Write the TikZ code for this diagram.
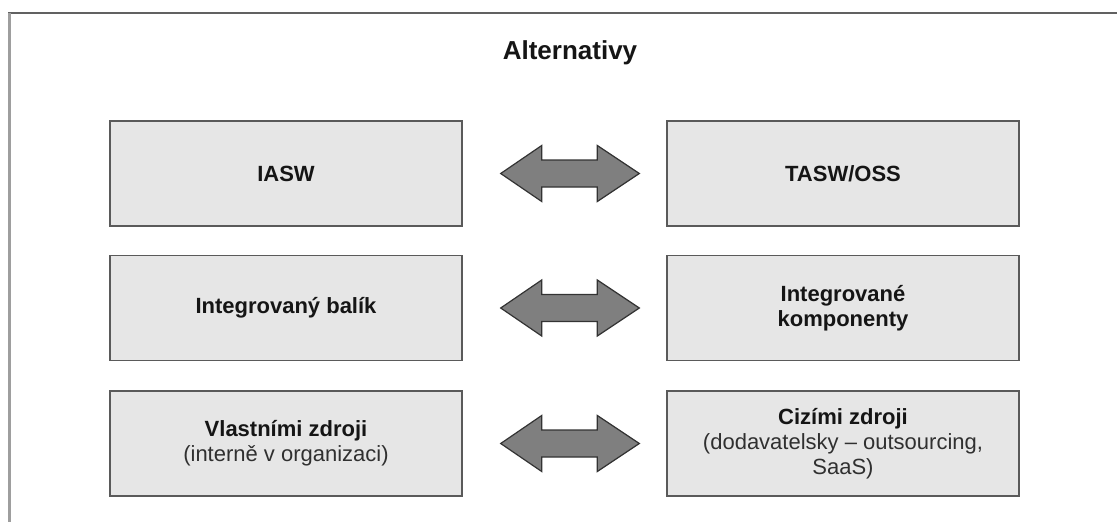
\documentclass[tikz,border=0pt]{standalone}
\usepackage{fontspec}
\setmainfont{Liberation Sans}
\usetikzlibrary{calc}
\definecolor{boxfill}{HTML}{E6E6E6}
\definecolor{boxline}{HTML}{5A5A5A}
\definecolor{arrfill}{HTML}{7F7F7F}
\definecolor{arrline}{HTML}{333333}
\definecolor{txt}{HTML}{151515}
\definecolor{subtxt}{HTML}{303030}
\tikzset{
  choice/.style={draw=boxline, line width=1.4pt, fill=boxfill, rectangle,
    minimum width=352pt, minimum height=105pt, inner sep=0pt, align=center,
    text=txt, font=\fontsize{22}{25}\selectfont\bfseries},
  heading/.style={font=\fontsize{26}{30}\selectfont\bfseries, text=txt},
  twoway/.style={draw=arrline, line width=1.2pt, fill=arrfill, line join=miter},
}
% double-headed block arrow between two tip coordinates
\newcommand{\blockarrow}[2]{%
  \draw[twoway] (#1) -- ++(41,-28) -- ++(0,14.5) -- ($(#2)+(-42,-13.5)$)
    -- ++(0,-14.5) -- (#2) -- ++(-42,28) -- ++(0,-14.5)
    -- ($(#1)+(41,13.5)$) -- ++(0,14.5) -- cycle;}
\newcommand{\sub}[1]{{\mdseries\color{subtxt}#1}}
\begin{document}
\begin{tikzpicture}[x=1pt,y=-1pt]
  \useasboundingbox (0,0) rectangle (1117,522);
  % frame
  \draw[color=black!62, line width=2pt] (8,12.5) -- (1117,12.5);
  \draw[color=black!38, line width=3pt] (9.5,12.5) -- (9.5,522);

  \node[heading] (title) at (570,53) {Alternativy};

  \node[choice] (iasw) at (286,173.5) {IASW};
  \node[choice] (tasw) at (843,173.5) {TASW/OSS};
  \node[choice] (balik) at (286,308) {Integrovaný balík};
  \node[choice] (komp) at (843,308) {Integrované\\komponenty};
  \node[choice] (vlast) at (286,443.5) {Vlastními zdroji\\\sub{(interně v organizaci)}};
  \node[choice] (cizi) at (843,443.5) {Cizími zdroji\\\sub{(dodavatelsky -- outsourcing,}\\\sub{SaaS)}};

  \foreach \a/\b/\n in {iasw/tasw/1, balik/komp/2, vlast/cizi/3}{
    \coordinate (l\n) at ($(\a.east)+(38,0)$);
    \coordinate (r\n) at ($(\b.west)+(-27,0)$);
  }
  \blockarrow{l1}{r1}
  \blockarrow{l2}{r2}
  \blockarrow{l3}{r3}
\end{tikzpicture}
\end{document}
